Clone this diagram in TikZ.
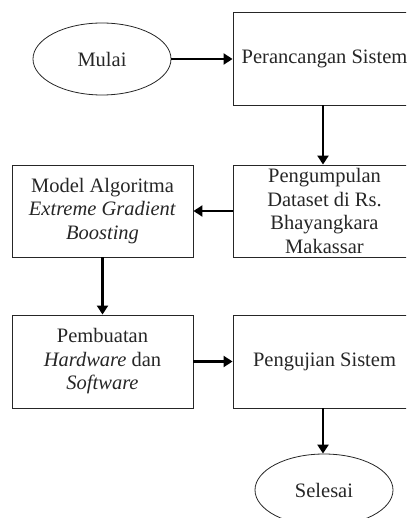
\documentclass[tikz,border=0pt]{standalone}
\usepackage{fontspec}
\setmainfont{Liberation Serif}
\usetikzlibrary{shapes.geometric,arrows.meta}

\tikzset{
  stepbox/.style={draw=black!85, line width=0.9pt, rectangle, align=center,
    inner sep=0pt, text=black!85, font=\fontsize{20.5}{23.5}\selectfont},
  terminal/.style={draw=black!85, line width=0.8pt, ellipse, inner sep=0pt,
    minimum width=138pt, minimum height=72pt, text=black!85,
    font=\fontsize{20.5}{23.5}\selectfont},
  flow/.style={line width=2.3pt, black, -{Triangle[length=9pt,width=11pt]}}
}

\begin{document}
\begin{tikzpicture}[x=1pt,y=-1pt]
  \useasboundingbox (0,0) rectangle (406,518);
  \clip (0,0) rectangle (406,518);

  % start and end terminals
  \node[terminal] (mulai) at (102,59) {Mulai};
  \node[terminal] (selesai) at (324,490) {Selesai};

  % process steps
  \node[stepbox, minimum width=183pt, minimum height=93pt] (rancang) at (324.5,58.5)
    {Perancangan Sistem};
  \node[stepbox, minimum width=183pt, minimum height=92pt] (dataset) at (324.5,211)
    {Pengumpulan\\Dataset di Rs.\\Bhayangkara\\Makassar};
  \node[stepbox, minimum width=181pt, minimum height=92pt] (model) at (102.5,211)
    {Model Algoritma\\\textit{Extreme Gradient}\\\textit{Boosting}};
  \node[stepbox, minimum width=181pt, minimum height=93pt] (buat) at (102.5,361.5)
    {Pembuatan\\\textit{Hardware} dan\\\textit{Software}};
  \node[stepbox, minimum width=183pt, minimum height=93pt] (uji) at (324.5,361.5)
    {Pengujian Sistem};

  % connectors
  \draw[flow] (mulai.east) -- (mulai.east -| rancang.west);
  \draw[flow] (rancang.south -| 323,0) -- (dataset.north -| 323,0);
  \draw[flow] (dataset.west) -- (model.east);
  \draw[flow] (model.south) -- (buat.north);
  \draw[flow] (buat.east) -- (uji.west);
  \draw[flow] (uji.south -| 323,0) -- (selesai.north -| 323,0);
\end{tikzpicture}
\end{document}
